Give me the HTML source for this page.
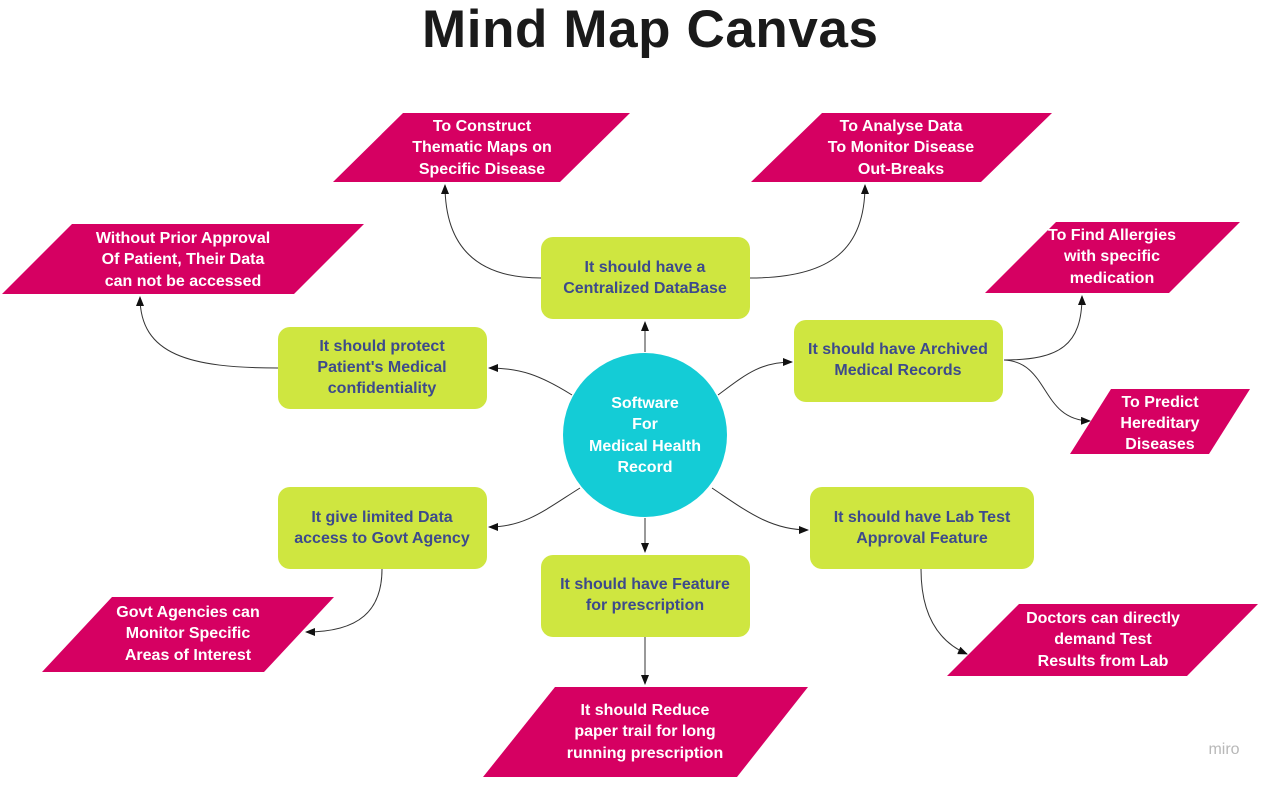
<!DOCTYPE html>
<html><head><meta charset="utf-8"><style>
html,body{margin:0;padding:0;background:#fff;width:1273px;height:785px;overflow:hidden}
svg text{font-family:"Liberation Sans",sans-serif;font-weight:bold}
.w{fill:#fff;font-size:16px}
.g{fill:#3d4a8c;font-size:16px}
.p{fill:#d60062}
.b{fill:#cfe640}
.c{fill:none;stroke:#333;stroke-width:1}
</style></head><body>
<svg width="1273" height="785" viewBox="0 0 1273 785">
<defs><marker id="a" markerWidth="10" markerHeight="8" refX="9" refY="4" orient="auto" markerUnits="userSpaceOnUse"><path d="M0,0 L10,4 L0,8 z" fill="#111"/></marker></defs>
<text x="650" y="47" text-anchor="middle" textLength="456" style="font-size:53px;fill:#1a1a1a">Mind Map Canvas</text>

<g class="c" marker-end="url(#a)">
<path d="M645,352 L645,322"/>
<path d="M572,395 C540,375 520,368 489,368"/>
<path d="M718,395 C745,375 760,362 792,362"/>
<path d="M580,488 C545,510 525,527 489,527"/>
<path d="M712,488 C745,510 770,530 808,530"/>
<path d="M645,518 L645,552"/>
<path d="M541,278 C470,278 445,240 445,185"/>
<path d="M750,278 C830,278 865,250 865,185"/>
<path d="M278,368 C190,368 140,355 140,297"/>
<path d="M1004,360 C1060,360 1082,345 1082,296"/>
<path d="M1004,360 C1050,362 1040,420 1090,421"/>
<path d="M382,569 C382,610 360,632 306,632"/>
<path d="M921,569 C921,610 935,640 967,654"/>
<path d="M645,637 L645,684"/>
</g>

<rect class="b" x="541" y="237" width="209" height="82" rx="12"/>
<rect class="b" x="278" y="327" width="209" height="82" rx="12"/>
<rect class="b" x="794" y="320" width="209" height="82" rx="12"/>
<rect class="b" x="278" y="487" width="209" height="82" rx="12"/>
<rect class="b" x="810" y="487" width="224" height="82" rx="12"/>
<rect class="b" x="541" y="555" width="209" height="82" rx="12"/>
<text class="g" text-anchor="middle"><tspan x="645" y="272">It should have a</tspan><tspan x="645" y="293">Centralized DataBase</tspan></text>
<text class="g" text-anchor="middle"><tspan x="382" y="351">It should protect</tspan><tspan x="382" y="372">Patient's Medical</tspan><tspan x="382" y="393">confidentiality</tspan></text>
<text class="g" text-anchor="middle"><tspan x="898" y="354">It should have Archived</tspan><tspan x="898" y="375">Medical Records</tspan></text>
<text class="g" text-anchor="middle"><tspan x="382" y="522">It give limited Data</tspan><tspan x="382" y="543">access to Govt Agency</tspan></text>
<text class="g" text-anchor="middle"><tspan x="922" y="522">It should have Lab Test</tspan><tspan x="922" y="543">Approval Feature</tspan></text>
<text class="g" text-anchor="middle"><tspan x="645" y="589">It should have Feature</tspan><tspan x="645" y="610">for prescription</tspan></text>

<circle cx="645" cy="435" r="82" fill="#14ccd6"/>
<text class="w" text-anchor="middle"><tspan x="645" y="408">Software</tspan><tspan x="645" y="429">For</tspan><tspan x="645" y="451">Medical Health</tspan><tspan x="645" y="472">Record</tspan></text>

<polygon class="p" points="403,113 630,113 560,182 333,182"/>
<polygon class="p" points="822,113 1052,113 981,182 751,182"/>
<polygon class="p" points="72,224 364,224 294,294 2,294"/>
<polygon class="p" points="1056,222 1240,222 1169,293 985,293"/>
<polygon class="p" points="1111,389 1250,389 1209,454 1070,454"/>
<polygon class="p" points="112,597 334,597 264,672 42,672"/>
<polygon class="p" points="1019,604 1258,604 1187,676 947,676"/>
<polygon class="p" points="555,687 808,687 737,777 483,777"/>
<text class="w" text-anchor="middle"><tspan x="482" y="131">To Construct</tspan><tspan x="482" y="152">Thematic Maps on</tspan><tspan x="482" y="174">Specific Disease</tspan></text>
<text class="w" text-anchor="middle"><tspan x="901" y="131">To Analyse Data</tspan><tspan x="901" y="152">To Monitor Disease</tspan><tspan x="901" y="174">Out-Breaks</tspan></text>
<text class="w" text-anchor="middle"><tspan x="183" y="243">Without Prior Approval</tspan><tspan x="183" y="264">Of Patient, Their Data</tspan><tspan x="183" y="286">can not be accessed</tspan></text>
<text class="w" text-anchor="middle"><tspan x="1112" y="240">To Find Allergies</tspan><tspan x="1112" y="261">with specific</tspan><tspan x="1112" y="283">medication</tspan></text>
<text class="w" text-anchor="middle"><tspan x="1160" y="407">To Predict</tspan><tspan x="1160" y="428">Hereditary</tspan><tspan x="1160" y="449">Diseases</tspan></text>
<text class="w" text-anchor="middle"><tspan x="188" y="617">Govt Agencies can</tspan><tspan x="188" y="638">Monitor Specific</tspan><tspan x="188" y="660">Areas of Interest</tspan></text>
<text class="w" text-anchor="middle"><tspan x="1103" y="623">Doctors can directly</tspan><tspan x="1103" y="644">demand Test</tspan><tspan x="1103" y="666">Results from Lab</tspan></text>
<text class="w" text-anchor="middle"><tspan x="645" y="715">It should Reduce</tspan><tspan x="645" y="736">paper trail for long</tspan><tspan x="645" y="758">running prescription</tspan></text>

<text x="1224" y="754" text-anchor="middle" style="font-size:16px;fill:#b8b8b8;font-weight:normal">miro</text>
</svg>
</body></html>
